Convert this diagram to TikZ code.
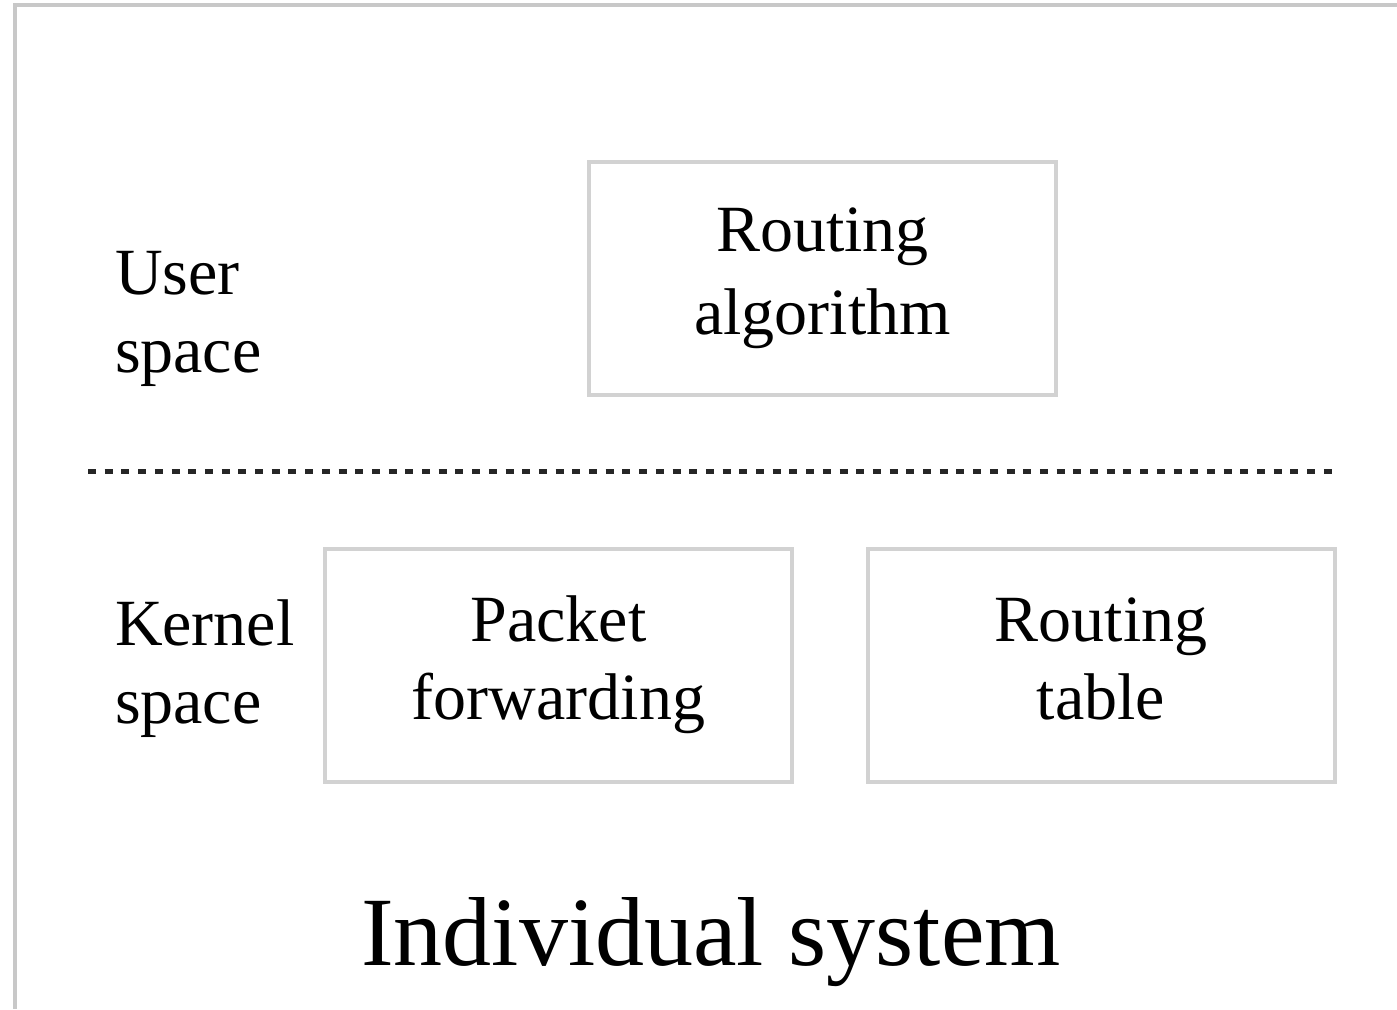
\documentclass[tikz,border=0pt]{standalone}
\usepackage{fontspec}
\setmainfont{Liberation Serif}
\definecolor{framegray}{HTML}{C8C8C8}
\definecolor{boxgray}{HTML}{D2D2D2}

\begin{document}
\begin{tikzpicture}[
    x = 1pt, y = -1pt,
    every node/.style = {inner sep = 0pt, outer sep = 0pt},
    block/.style = {draw = boxgray, line width = 4pt,
        minimum width = 467pt, minimum height = 233pt,
        align = center, font = \fontsize{66}{78}\selectfont},
    side/.style = {anchor = west, align = left, font = \fontsize{66}{78}\selectfont},
    separator/.style = {black!85, line width = 5pt, dash pattern = on 8pt off 8.7pt}]

\useasboundingbox (0,0) rectangle (1397,1009);
\draw[framegray, line width = 3.5pt] (13,5) -- (1397,5)
      (15,3.25) -- (15,1009);

\path (822.5,278) node[block, font = \fontsize{66}{83}\selectfont](alg) {Routing\\algorithm}
      (558.5,665) node[block](fwd) {\strut Packet\\forwarding\strut}
      (1101,665) node[block](tab) {\strut Routing\\table\strut};

\path (115,319) node[side](user) {User\\space}
      (115,669) node[side](kernel) {Kernel\\space};

\coordinate (sepL) at (88,471);
\coordinate (sepR) at (1333,471);
\draw[separator] (sepL) -- (sepR);

\path (711,965) node[anchor = base, font = \fontsize{98}{98}\selectfont](title) {Individual system};
\end{tikzpicture}
\end{document}
